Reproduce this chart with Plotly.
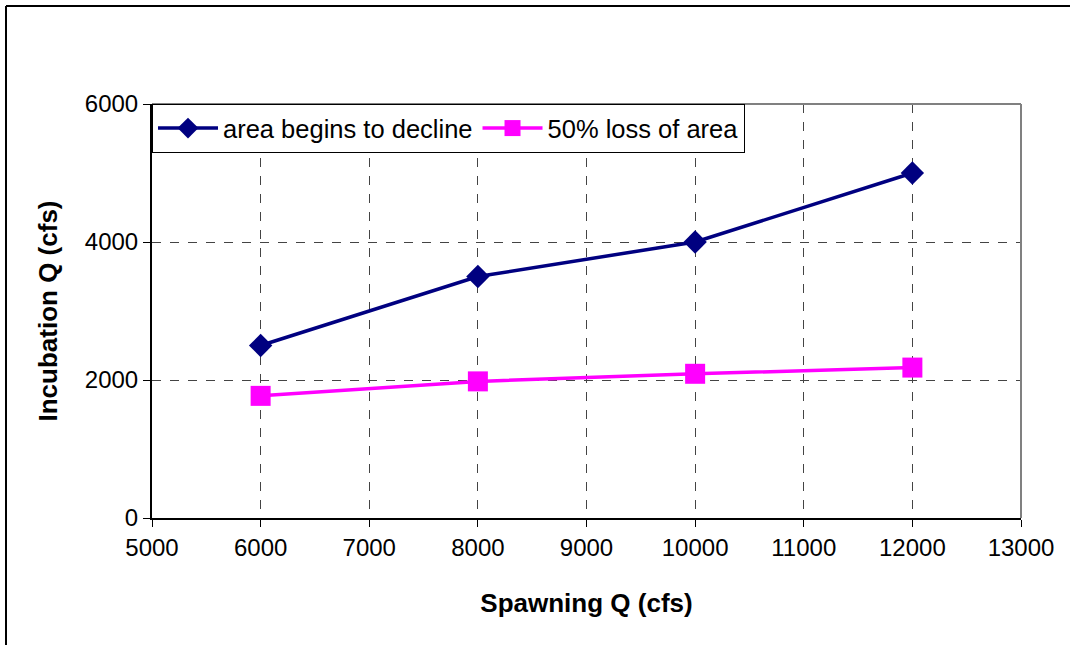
import plotly.graph_objects as go

spawning_q = [6000, 8000, 10000, 12000]
begins_decline = [2500, 3500, 4000, 5000]
loss_50 = [1770, 1980, 2090, 2180]

W, H = 1070, 645
L, R, T, B = 152, 49, 104, 127
pw, ph = W - L - R, H - T - B

fig = go.Figure()
fig.add_trace(go.Scatter(
    x=spawning_q, y=begins_decline, mode="lines+markers",
    name="area begins to decline",
    line=dict(color="#000080", width=3.5),
    marker=dict(symbol="diamond", size=18, color="#000080"),
))
fig.add_trace(go.Scatter(
    x=spawning_q, y=loss_50, mode="lines+markers",
    name="50% loss of area",
    line=dict(color="#FF00FF", width=3.5),
    marker=dict(symbol="square", size=20, color="#FF00FF"),
))

fam = "Liberation Sans, Arial, sans-serif"

fig.update_layout(
    width=W, height=H,
    margin=dict(l=L, r=R, t=T, b=B),
    paper_bgcolor="white", plot_bgcolor="white",
    font=dict(family=fam, size=24, color="black"),
    showlegend=True,
    legend=dict(
        orientation="h", x=0, y=1, xanchor="left", yanchor="top",
        bordercolor="black", borderwidth=1, bgcolor="white",
        font=dict(family=fam, size=25.5, color="black"),
        itemwidth=60, tracegroupgap=0,
    ),
    xaxis=dict(
        range=[5000, 13000], dtick=1000, tick0=5000, tickformat="d",
        showgrid=True, gridcolor="#444444", griddash="dash", gridwidth=1,
        showline=True, linecolor="black", linewidth=2,
        ticks="outside", ticklen=7, tickcolor="black",
        title=dict(text="<b>Spawning Q (cfs)</b>", font=dict(size=26), standoff=34),
        zeroline=False,
    ),
    yaxis=dict(
        range=[0, 6000], dtick=2000, tickformat="d",
        showgrid=True, gridcolor="#444444", griddash="dash", gridwidth=1,
        showline=True, linecolor="black", linewidth=2,
        ticks="outside", ticklen=7, tickcolor="black",
        title=dict(text="<b>Incubation Q (cfs)</b>", font=dict(size=26), standoff=20),
        zeroline=False,
    ),
    shapes=[
        dict(type="line", xref="paper", yref="paper", x0=0, x1=1, y0=1, y1=1,
             line=dict(color="#808080", width=2)),
        dict(type="line", xref="paper", yref="paper", x0=1, x1=1, y0=0, y1=1,
             line=dict(color="#808080", width=2)),
        dict(type="line", xref="paper", yref="paper",
             x0=(6 - L) / pw, x1=(W + 5 - L) / pw,
             y0=(H - B - 6) / ph, y1=(H - B - 6) / ph,
             line=dict(color="black", width=2)),
        dict(type="line", xref="paper", yref="paper",
             x0=(6 - L) / pw, x1=(6 - L) / pw,
             y0=(H - B - 6) / ph, y1=(H - B - H - 5) / ph,
             line=dict(color="black", width=2)),
    ],
)

fig.write_html("out.html", config={"displayModeBar": False},
               post_script="document.body.style.margin='0';")
